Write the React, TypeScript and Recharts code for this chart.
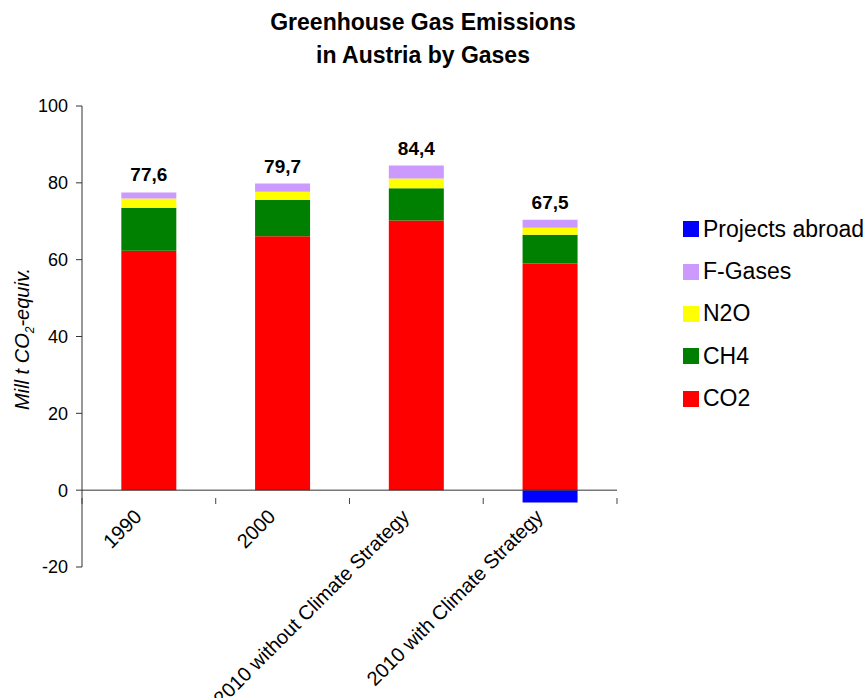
import React from "react";
import { Bar, BarChart, LabelList, ReferenceLine, XAxis, YAxis } from "recharts";

const categories = ["1990", "2000", "2010 without Climate Strategy", "2010 with Climate Strategy"];
const co2 = [62.3, 66.1, 70.2, 59.0];
const ch4 = [11.2, 9.4, 8.4, 7.5];
const n2o = [2.4, 2.2, 2.5, 1.8];
const fGases = [1.6, 2.1, 3.4, 2.1];
const projectsAbroad = [0, 0, 0, -3.2];
const totals = [77.6, 79.7, 84.4, 67.5];
const yTicks = [-20, 0, 20, 40, 60, 80, 100];

const series = [
  { key: "co2", name: "CO2", color: "#FF0000" },
  { key: "ch4", name: "CH4", color: "#008000" },
  { key: "n2o", name: "N2O", color: "#FFFF00" },
  { key: "fGases", name: "F-Gases", color: "#CC99FF" },
  { key: "projectsAbroad", name: "Projects abroad", color: "#0000FF" },
];

const data = categories.map((name, i) => ({
  name,
  co2: co2[i],
  ch4: ch4[i],
  n2o: n2o[i],
  fGases: fGases[i],
  projectsAbroad: projectsAbroad[i],
}));

const FONT = "'Liberation Sans', Arial, sans-serif";
const ZERO_SHIFT = 77; // distance from plot bottom (-20) up to the 0 line
const BAND = 133.7;

function XTick(props: any) {
  const { x, y, payload, index } = props;
  const zy = y - ZERO_SHIFT;
  return (
    <g>
      <line x1={x + BAND / 2} y1={zy} x2={x + BAND / 2} y2={zy + 6} stroke="#444" />
      {index === 0 && <line x1={x - BAND / 2} y1={zy} x2={x - BAND / 2} y2={zy + 6} stroke="#444" />}
      <text
        x={0}
        y={0}
        transform={`translate(${x - 6},${zy + 20}) rotate(-45)`}
        textAnchor="end"
        fontSize={20}
        fontFamily={FONT}
        fill="#000"
      >
        {payload.value}
      </text>
    </g>
  );
}

function TotalLabel(props: any) {
  const { x, y, width, index } = props;
  return (
    <text
      x={x + width / 2}
      y={y - 11}
      textAnchor="middle"
      fontSize={19}
      fontWeight="bold"
      fontFamily={FONT}
      fill="#000"
    >
      {totals[index].toFixed(1).replace(".", ",")}
    </text>
  );
}

function YLabel() {
  return (
    <text
      transform="translate(29,339) rotate(-90)"
      textAnchor="middle"
      fontSize={20}
      fontStyle="italic"
      fontFamily={FONT}
      fill="#000"
    >
      Mill t CO
      <tspan fontSize={12} dy={5}>2</tspan>
      <tspan dy={-5}>-equiv.</tspan>
    </text>
  );
}

export default function App() {
  const legendItems = [...series].reverse();
  return (
    <div style={{ position: "absolute", left: 0, top: 0, width: 868, height: 698, background: "#fff", fontFamily: FONT }}>
      <div
        style={{
          position: "absolute",
          left: 0,
          top: 6,
          width: 846,
          textAlign: "center",
          fontSize: 23,
          fontWeight: "bold",
          lineHeight: "33px",
          color: "#000",
        }}
      >
        Greenhouse Gas Emissions
        <br />
        in Austria by Gases
      </div>
      <BarChart
        width={868}
        height={698}
        data={data}
        stackOffset="sign"
        barCategoryGap="29.4%"
        margin={{ top: 106, right: 251, bottom: 101, left: 22 }}
      >
        <XAxis dataKey="name" axisLine={false} tickLine={false} height={30} interval={0} tick={<XTick />} />
        <YAxis
          width={60}
          domain={[-20, 100]}
          ticks={yTicks}
          interval={0}
          tickSize={6}
          tickMargin={8}
          axisLine={{ stroke: "#333" }}
          tickLine={{ stroke: "#333" }}
          tick={{ fontSize: 18, fill: "#000", fontFamily: FONT }}
          label={<YLabel />}
        />
        <ReferenceLine y={0} stroke="#333" />
        {series.map((s) => (
          <Bar key={s.key} dataKey={s.key} name={s.name} stackId="a" fill={s.color} isAnimationActive={false}>
            {s.key === "fGases" && <LabelList dataKey="fGases" content={<TotalLabel />} />}
          </Bar>
        ))}
      </BarChart>
      <div style={{ position: "absolute", left: 683, top: 208 }}>
        {legendItems.map((s) => (
          <div key={s.key} style={{ display: "flex", alignItems: "center", height: 42.4 }}>
            <div style={{ width: 16, height: 16, background: s.color, marginRight: 4 }} />
            <span style={{ fontSize: 23, color: "#000" }}>{s.name}</span>
          </div>
        ))}
      </div>
    </div>
  );
}
